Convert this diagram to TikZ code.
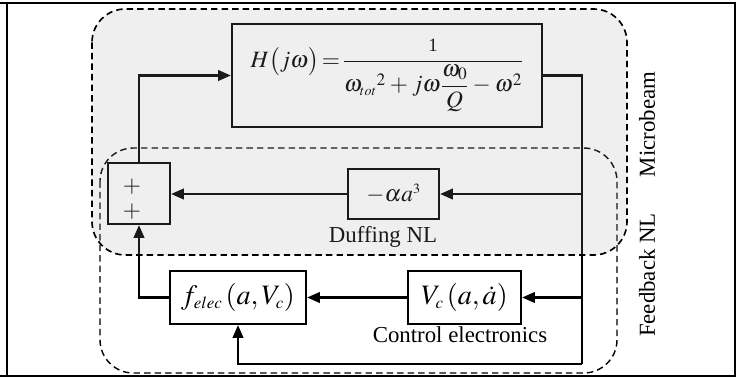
\documentclass[tikz,border=0pt]{standalone}
\usepackage{amsmath}
\usepackage{mathptmx}
\usepackage[no-math]{fontspec}
\setmainfont{Liberation Serif}
\usepackage{tikz}
\usetikzlibrary{arrows.meta}
\usetikzlibrary{calc,positioning}

\begin{document}
\begin{tikzpicture}[x=0.03cm,y=-0.03cm,
	block/.style={draw,line width=1.8pt,inner sep=0pt,font=\fontsize{24}{28}\selectfont},
	lbl/.style={font=\fontsize{19.5}{23}\selectfont},
	plus/.style={inner sep=0pt,font=\fontsize{20}{20}\selectfont},
	wire/.style={line width=2pt},
	arr/.style={wire,-{Triangle[length=11pt,width=9pt]}},
	region/.style={line width=1.2pt,dash pattern=on 5.5pt off 3.5pt,rounded corners=1cm}]
	\useasboundingbox (0,0) rectangle (743,378);
	% frame
	\draw[line width=2.5pt] (0,3) -- (736,3) (7,3) -- (7,376) (735,3) -- (735,376) (0,376) -- (736,376);
	% feedback loop
	\draw[region] (100,148) rectangle (617,373);
	\node[block,minimum width=9.3cm,minimum height=3.09cm,font=\fontsize{20}{24}\selectfont] (H) at (387,75.5)
		{$\thickmuskip=2mu\medmuskip=3mu H\bigl(j\omega\bigr)=\dfrac{\text{\fontsize{16}{16}\selectfont 1}}{{\omega_{\scriptscriptstyle tot}}^{2}+j\omega\dfrac{\omega_{0}}{Q}-\omega^{2}}$};
	\node[block,minimum width=1.86cm,minimum height=1.83cm] (sum) at (139,193.5) {};
	\node[plus] (p1) at (132,187) {$+$};
	\node[plus] (p2) at (132,212) {$+$};
	\node[block,minimum width=2.73cm,minimum height=1.5cm,font=\fontsize{20}{24}\selectfont] (duff) at (393.5,194) {$-\alpha a^{\scriptscriptstyle 3}$};
	\node[block,minimum width=4.08cm,minimum height=1.59cm] (felec) at (238,297.5)
		{$f_{\scriptscriptstyle elec}\left(a,V_{\scriptscriptstyle c}\right)$};
	\node[block,minimum width=3.39cm,minimum height=1.59cm] (vc) at (464.5,297.5)
		{$V_{\scriptscriptstyle c}\left(a,\dot{a}\right)$};
	\node[lbl] (duffl) at (383,237) {Duffing NL};
	\node[lbl] (ctrl) at (460,335) {Control electronics};
	\coordinate (rt) at (582,364);
	\draw[wire] (H.east) -| (rt);
	\draw[arr] (rt) -| (felec.south);
	\draw[arr] (duff.east -| rt) -- (duff.east);
	\draw[arr] (vc.east -| rt) -- (vc.east);
	\draw[arr] (vc) -- (felec);
	\draw[arr] (duff.west) -- (duff.west -| sum.east);
	\draw[arr] (felec.west) -| (sum.south);
	\draw[arr] (sum.north) |- (H.west);
	% microbeam
	\fill[gray!75,fill opacity=0.17,rounded corners=1cm] (92,9) rectangle (627,255);
	\draw[region,line width=1.4pt] (92,9) rectangle (627,255);
	\node[lbl,rotate=90] (mb) at (647,124.5) {Microbeam};
	\node[lbl,rotate=90] (fb) at (647,275) {Feedback NL};
\end{tikzpicture}
\end{document}
